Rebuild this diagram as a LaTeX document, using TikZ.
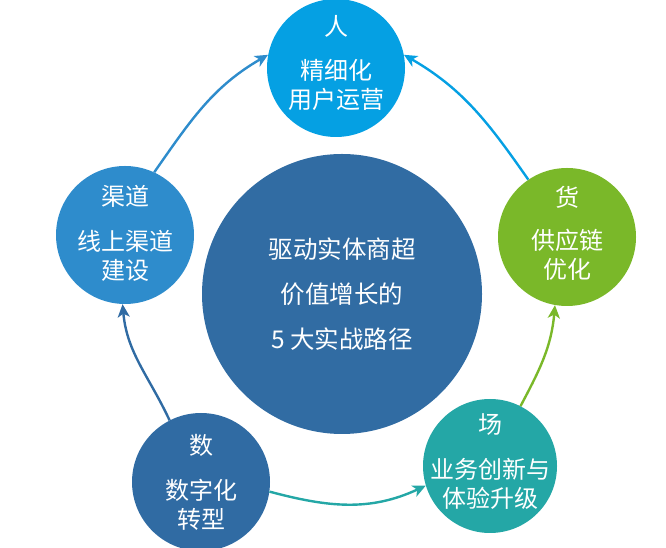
\documentclass[tikz,border=0pt]{standalone}
\usepackage{fontspec}
\setmainfont{Noto Sans CJK SC}
\usetikzlibrary{arrows.meta}
\definecolor{renblue}{HTML}{05A0E3}
\definecolor{qdblue}{HTML}{2E8CCC}
\definecolor{huogreen}{HTML}{7AB829}
\definecolor{changteal}{HTML}{24A7A6}
\definecolor{shublue}{HTML}{306BA3}
\definecolor{coreblue}{HTML}{316CA3}
\tikzset{
  ball/.style={circle,minimum size=138pt,inner sep=0pt,fill=#1},
  head/.style={text=white,font=\fontsize{24}{24}\selectfont},
  body/.style={text=white,align=center,font=\fontsize{24}{29}\selectfont},
  link/.style={line width=2.4pt,-{Stealth[length=13pt,width=12pt,inset=3.5pt]}}
}
\begin{document}
\begin{tikzpicture}[x=1pt,y=1pt]
  \useasboundingbox (0,0) rectangle (666,548);
  \node[ball=coreblue,minimum size=280pt,text=white,align=center,
        font=\fontsize{24.5}{45}\selectfont] (core) at (342,254)
        {驱动实体商超\\价值增长的\\5 大实战路径};
  \node[ball=renblue] (ren) at (336,480){};
  \node[ball=qdblue] (qudao) at (125,313){};
  \node[ball=huogreen] (huo) at (567,311){};
  \node[ball=shublue] (shu) at (201,66){};
  \node[ball=changteal,minimum size=134pt] (chang) at (490,82){};
  \node[head] (renHead) at ([yshift=42pt]ren.center){人};
  \node[body] (renBody) at ([yshift=-17pt]ren.center){精细化\\用户运营};
  \node[head] (qudaoHead) at ([yshift=39pt]qudao.center){渠道};
  \node[body] (qudaoBody) at ([yshift=-21pt]qudao.center){线上渠道\\建设};
  \node[head] (huoHead) at ([yshift=40pt]huo.center){货};
  \node[body] (huoBody) at ([yshift=-18pt]huo.center){供应链\\优化};
  \node[head] (shuHead) at ([yshift=37pt]shu.center){数};
  \node[body] (shuBody) at ([yshift=-23pt]shu.center){数字化\\转型};
  \node[head] (changHead) at ([yshift=41pt]chang.center){场};
  \node[body] (changBody) at ([yshift=-18pt]chang.center){业务创新与\\体验升级};
  \draw[link,qdblue] (qudao.65) to[out=55,in=210] (ren.169);
  \draw[link,renblue] (huo.124) to[out=125,in=-30] (ren.11);
  \draw[link,shublue] (shu.117) to[out=115,in=-85] (qudao.268);
  \draw[link,changteal] (shu.-8) to[out=-15,in=205] (chang.197);
  \draw[link,huogreen] (chang.63) to[out=62,in=265] (huo.260);
\end{tikzpicture}
\end{document}
